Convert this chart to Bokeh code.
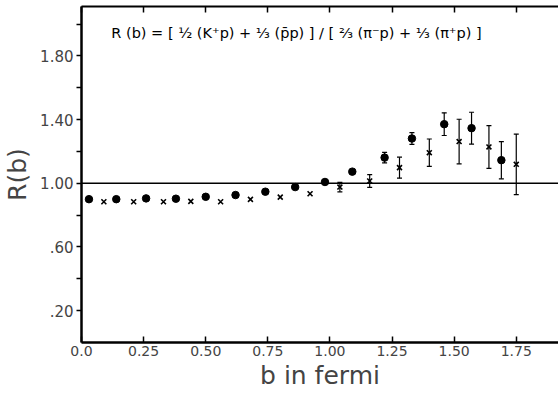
from bokeh.plotting import figure
from bokeh.models import (ColumnDataSource, Range1d, FixedTicker, LinearAxis, Span,
                          Whisker, TeeHead, Label)
from bokeh.embed import file_html
from bokeh.resources import INLINE

# ---- data ----
dot_b = [0.03, 0.14, 0.26, 0.38, 0.50, 0.62, 0.74, 0.86, 0.98, 1.09, 1.22, 1.33, 1.46, 1.57, 1.69]
dot_r = [0.900, 0.900, 0.905, 0.903, 0.915, 0.926, 0.947, 0.976, 1.008, 1.073, 1.161, 1.281, 1.371, 1.346, 1.145]
dot_err = [0, 0, 0, 0, 0, 0, 0, 0, 0, 0, 0.033, 0.037, 0.071, 0.100, 0.117]

cross_b = [0.09, 0.21, 0.33, 0.44, 0.56, 0.68, 0.80, 0.92, 1.04, 1.16, 1.28, 1.40, 1.52, 1.64, 1.75]
cross_r = [0.884, 0.884, 0.884, 0.886, 0.884, 0.899, 0.913, 0.934, 0.976, 1.014, 1.098, 1.192, 1.262, 1.228, 1.119]
cross_err = [0, 0, 0, 0, 0, 0, 0, 0, 0.030, 0.040, 0.066, 0.086, 0.140, 0.134, 0.190]

x_ticks = [0.0, 0.25, 0.5, 0.75, 1.0, 1.25, 1.5, 1.75]
x_tick_labels = ["0.0", "0.25", "0.50", "0.75", "1.00", "1.25", "1.50", "1.75"]
y_ticks = [0.2, 0.6, 1.0, 1.4, 1.8]
y_tick_labels = [".20", ".60", "1.00", "1.40", "1.80"]
y_minor_ticks = [0.4, 0.8, 1.2, 1.6, 2.0]
reference_level = 1.0
formula = "R (b) = [ \u00bd (K\u207ap) + \u2153 (p\u0304p) ] / [ \u2154 (\u03c0\u207bp) + \u2153 (\u03c0\u207ap) ]"
x_title = "b in fermi"
y_title = "R(b)"

FONT = "DejaVu Sans"

def with_bounds(b, r, e):
    return dict(b=b, r=r,
                lo=[ri - ei for ri, ei in zip(r, e)],
                hi=[ri + ei for ri, ei in zip(r, e)],
                e=e)

dots_d = with_bounds(dot_b, dot_r, dot_err)
crosses_d = with_bounds(cross_b, cross_r, cross_err)
dots = ColumnDataSource(dots_d)
crosses = ColumnDataSource(crosses_d)
dots_err = ColumnDataSource({k: [v for v, e in zip(vals, dot_err) if e > 0] for k, vals in dots_d.items()})
crosses_err = ColumnDataSource({k: [v for v, e in zip(vals, cross_err) if e > 0] for k, vals in crosses_d.items()})

p = figure(width=558, height=394, output_backend="svg", toolbar_location=None,
           x_range=Range1d(0, 1.92), y_range=Range1d(0, 2.11),
           min_border_left=81, min_border_right=0, min_border_top=6, min_border_bottom=52)
p.outline_line_color = None
p.grid.visible = False
p.background_fill_color = "white"
p.border_fill_color = "white"

# axes
xa = p.xaxis[0]
xa.ticker = FixedTicker(ticks=x_ticks)
xa.major_label_overrides = {t: l for t, l in zip(x_ticks, x_tick_labels)}
xa.major_tick_in = 6
xa.major_tick_out = 0
xa.minor_tick_line_color = None
xa.axis_line_width = 2.5
xa.major_tick_line_width = 1.5
xa.major_label_text_font = FONT
xa.major_label_text_font_size = "14px"
xa.major_label_standoff = 3
xa.axis_label = x_title
xa.axis_label_text_font = FONT
xa.axis_label_text_font_size = "25px"
xa.axis_label_text_font_style = "normal"
xa.axis_label_standoff = 2

ya = p.yaxis[0]
ya.ticker = FixedTicker(ticks=y_ticks, minor_ticks=y_minor_ticks)
ya.major_label_overrides = {t: l for t, l in zip(y_ticks, y_tick_labels)}
ya.major_tick_in = 0
ya.major_tick_out = 5
ya.minor_tick_in = 0
ya.minor_tick_out = 5
ya.minor_tick_line_width = 1.5
ya.axis_line_width = 2.5
ya.major_tick_line_width = 1.5
ya.major_label_text_font = FONT
ya.major_label_text_font_size = "15px"
ya.major_label_standoff = 3
ya.axis_label = y_title
ya.axis_label_text_font = FONT
ya.axis_label_text_font_size = "25px"
ya.axis_label_text_font_style = "normal"
ya.axis_label_standoff = 5

top = LinearAxis(ticker=FixedTicker(ticks=[], minor_ticks=x_ticks),
                 major_tick_line_color=None, minor_tick_in=6, minor_tick_out=0,
                 minor_tick_line_width=1.5, axis_line_width=2, major_label_standoff=0)
p.add_layout(top, "above")

# reference line at R = 1
p.add_layout(Span(location=reference_level, dimension="width", line_color="black", line_width=1.5))

# error bars
for src in (dots_err, crosses_err):
    p.add_layout(Whisker(source=src, base="b", lower="lo", upper="hi", dimension="height",
                         line_color="black", line_width=1.2,
                         lower_head=TeeHead(size=5, line_color="black", line_width=1.2),
                         upper_head=TeeHead(size=5, line_color="black", line_width=1.2)))

# markers
p.scatter("b", "r", source=dots, marker="circle", size=7.5, color="black")
p.scatter("b", "r", source=crosses, marker="x", size=7, line_color="black", line_width=1.6)

# formula
p.add_layout(Label(x=0.12, y=1.946, text=formula, text_font=FONT, text_font_size="14.5px",
                   text_baseline="middle", text_color="black"))

open("out.html", "w").write(file_html(p, INLINE))
